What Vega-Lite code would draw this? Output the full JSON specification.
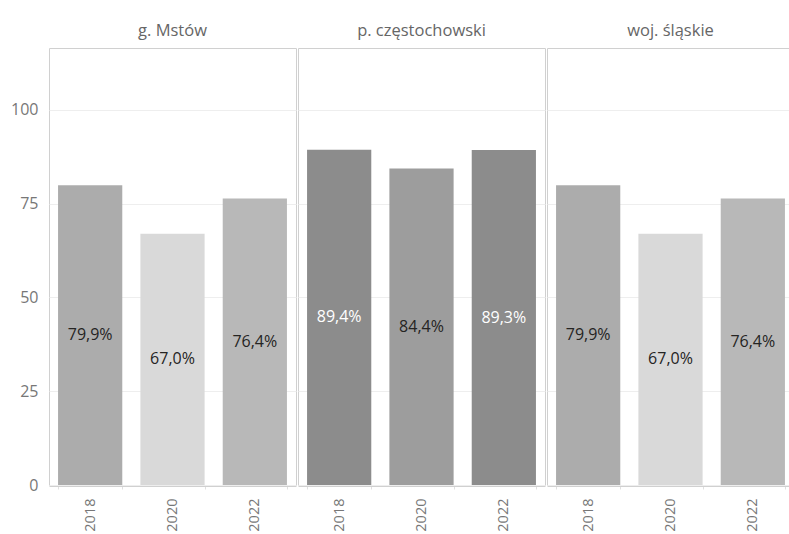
{
  "$schema": "https://vega.github.io/schema/vega-lite/v6.json",
  "padding": {"left": 0, "top": 22, "right": 0, "bottom": 0},
  "data": {"values": [
    {"region": "g. Mstów", "year": "2018", "value": 79.9, "label": "79,9%"},
    {"region": "g. Mstów", "year": "2020", "value": 67.0, "label": "67,0%"},
    {"region": "g. Mstów", "year": "2022", "value": 76.4, "label": "76,4%"},
    {"region": "p. częstochowski", "year": "2018", "value": 89.4, "label": "89,4%"},
    {"region": "p. częstochowski", "year": "2020", "value": 84.4, "label": "84,4%"},
    {"region": "p. częstochowski", "year": "2022", "value": 89.3, "label": "89,3%"},
    {"region": "woj. śląskie", "year": "2018", "value": 79.9, "label": "79,9%"},
    {"region": "woj. śląskie", "year": "2020", "value": 67.0, "label": "67,0%"},
    {"region": "woj. śląskie", "year": "2022", "value": 76.4, "label": "76,4%"}
  ]},
  "facet": {
    "column": {
      "field": "region", "type": "nominal", "title": null,
      "sort": ["g. Mstów", "p. częstochowski", "woj. śląskie"],
      "header": {"labelFontSize": 16.5, "labelColor": "#666666", "labelFont": "Open Sans", "labelPadding": 8}
    }
  },
  "spacing": 0,
  "spec": {
    "width": 247,
    "height": 437,
    "layer": [
      {
        "mark": {"type": "bar"},
        "encoding": {
          "x": {"field": "year", "type": "ordinal",
            "scale": {"paddingInner": 0.22, "paddingOuter": 0.11},
            "axis": {"title": null, "labelAngle": -90, "labelFontSize": 14.5, "labelColor": "#777777", "labelFont": "Open Sans",
              "tickBand": "extent", "tickSize": 3, "tickColor": "#e0e0e0", "domainColor": "#d0d0d0", "labelPadding": 9}},
          "y": {"field": "value", "type": "quantitative",
            "scale": {"domain": [0, 116.5], "nice": false},
            "axis": {"title": null, "values": [0, 25, 50, 75, 100], "labelFontSize": 16, "labelColor": "#777777", "labelFont": "Open Sans",
              "ticks": false, "domain": false, "gridColor": "#eeeeee", "labelPadding": 10, "minExtent": 48, "maxExtent": 48}},
          "color": {"field": "value", "type": "quantitative",
            "scale": {"domain": [67, 89.4], "range": ["#d9d9d9", "#8c8c8c"]}, "legend": null}
        }
      },
      {
        "transform": [{"calculate": "datum.value / 2", "as": "labelPos"}],
        "mark": {"type": "text", "fontSize": 16, "font": "Open Sans", "baseline": "middle"},
        "encoding": {
          "x": {"field": "year", "type": "ordinal"},
          "y": {"field": "labelPos", "type": "quantitative"},
          "text": {"field": "label"},
          "color": {"condition": {"test": "datum.value > 88", "value": "#ffffff"}, "value": "#252423"}
        }
      }
    ]
  },
  "config": {"view": {"stroke": "#d0d0d0", "strokeWidth": 1}, "background": "#ffffff"}
}
